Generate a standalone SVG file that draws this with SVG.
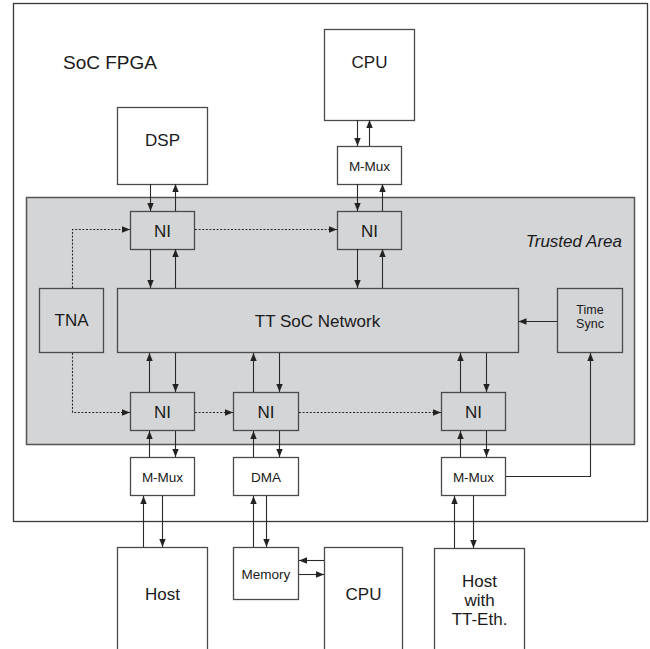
<svg xmlns="http://www.w3.org/2000/svg" width="650" height="649" viewBox="0 0 650 649">
<style>
.box{fill:#ffffff;stroke:#4a4a4a;stroke-width:1.3}
.gbox{fill:#d4d5d7;stroke:#4a4a4a;stroke-width:1.3}
.area{fill:#d4d5d7;stroke:#555555;stroke-width:1.5}
.outer{fill:#ffffff;stroke:#3a3a3a;stroke-width:1.3}
.t{font-family:"Liberation Sans",Arial,sans-serif;fill:#1a1a1a;text-anchor:middle}
.l{font-size:17px}
.s{font-size:13.5px}
.c{fill:none;stroke:#2a2a2a;stroke-width:1.1}
.a{marker-end:url(#ah)}
.d{stroke-dasharray:2 1.6}
</style>
<defs>
<marker id="ah" markerUnits="userSpaceOnUse" markerWidth="8" markerHeight="8" viewBox="0 0 8 8" refX="8" refY="4" orient="auto">
<path d="M0,0.8 L8,4 L0,7.2 Z" fill="#222222"/>
</marker>
</defs>
<rect class="outer" x="13.5" y="3.5" width="634" height="518"/>
<text class="t" x="63" y="69" style="font-size:19px;text-anchor:start">SoC FPGA</text>
<rect class="area" x="26.5" y="197.5" width="608" height="247"/>
<text class="t l" x="622" y="247" style="text-anchor:end;font-style:italic">Trusted Area</text>
<g id="cpu-top"><rect class="box" x="324.5" y="29.5" width="90" height="91"/><text class="t l" x="369.5" y="68">CPU</text></g>
<g id="mmux-top"><rect class="box" x="337.5" y="146.5" width="64" height="38"/><text class="t s" x="369.5" y="171">M-Mux</text></g>
<g id="dsp"><rect class="box" x="117.5" y="107.5" width="90" height="77"/><text class="t l" x="162.5" y="146">DSP</text></g>
<g id="ni-top-left"><rect class="gbox" x="130.5" y="211.5" width="64" height="38"/><text class="t l" x="162.5" y="237">NI</text></g>
<g id="ni-top-right"><rect class="gbox" x="337.5" y="211.5" width="64" height="38"/><text class="t l" x="369.5" y="237">NI</text></g>
<g id="tna"><rect class="gbox" x="39.5" y="288.5" width="64" height="64"/><text class="t l" x="71.5" y="326">TNA</text></g>
<g id="network"><rect class="gbox" x="117.5" y="288.5" width="401" height="64"/><text class="t l" x="317.5" y="327">TT SoC Network</text></g>
<g id="time-sync"><rect class="gbox" x="557.5" y="288.5" width="65" height="64"/><text class="t" x="590" y="313.5" style="font-size:12.5px">Time</text><text class="t" x="590" y="328" style="font-size:12.5px">Sync</text></g>
<g id="ni-bottom-1"><rect class="gbox" x="130.5" y="392.5" width="64" height="38"/><text class="t l" x="162.5" y="418">NI</text></g>
<g id="ni-bottom-2"><rect class="gbox" x="233.5" y="392.5" width="65" height="38"/><text class="t l" x="266" y="418">NI</text></g>
<g id="ni-bottom-3"><rect class="gbox" x="441.5" y="392.5" width="64" height="38"/><text class="t l" x="473.5" y="418">NI</text></g>
<g id="mmux-left"><rect class="box" x="130.5" y="457.5" width="64" height="38"/><text class="t s" x="162.5" y="482">M-Mux</text></g>
<g id="dma"><rect class="box" x="233.5" y="457.5" width="65" height="38"/><text class="t s" x="266" y="482">DMA</text></g>
<g id="mmux-right"><rect class="box" x="441.5" y="457.5" width="64" height="38"/><text class="t s" x="473.5" y="482">M-Mux</text></g>
<g id="host"><rect class="box" x="117.5" y="547.5" width="90" height="120"/><text class="t l" x="162.5" y="600">Host</text></g>
<g id="memory"><rect class="box" x="233.5" y="547.5" width="65" height="52"/><text class="t s" x="266" y="579">Memory</text></g>
<g id="cpu-bottom"><rect class="box" x="324.5" y="547.5" width="78" height="120"/><text class="t l" x="363.5" y="600">CPU</text></g>
<g id="host-tt-eth"><rect class="box" x="434.5" y="548.5" width="90" height="120"/><text class="t l" x="479.5" y="587">Host</text><text class="t l" x="479.5" y="606">with</text><text class="t l" x="479.5" y="625">TT-Eth.</text></g>
<g id="connectors">
<path class="c a" d="M150.5,184 V211"/>
<path class="c a" d="M175.5,211 V184"/>
<path class="c a" d="M357.5,120 V146"/>
<path class="c a" d="M369.5,146 V120"/>
<path class="c a" d="M357.5,184 V211"/>
<path class="c a" d="M382.5,211 V184"/>
<path class="c a" d="M150.5,249 V288"/>
<path class="c a" d="M175.5,288 V249"/>
<path class="c a" d="M357.5,249 V288"/>
<path class="c a" d="M382.5,288 V249"/>
<path class="c a d" d="M72.5,288 V229.5 H130"/>
<path class="c a d" d="M195,229.5 H337"/>
<path class="c a" d="M557,321.5 H518.5"/>
<path class="c a" d="M149.5,392 V353"/>
<path class="c a" d="M175.5,353 V392"/>
<path class="c a" d="M253.5,392 V353"/>
<path class="c a" d="M279.5,353 V392"/>
<path class="c a" d="M460.5,392 V353"/>
<path class="c a" d="M486.5,353 V392"/>
<path class="c a d" d="M72.5,353 V412.5 H130"/>
<path class="c a d" d="M195,412.5 H233"/>
<path class="c a d" d="M299,412.5 H441"/>
<path class="c a" d="M149.5,457 V431"/>
<path class="c a" d="M175.5,431 V457"/>
<path class="c a" d="M253.5,457 V431"/>
<path class="c a" d="M279.5,431 V457"/>
<path class="c a" d="M460.5,457 V431"/>
<path class="c a" d="M486.5,431 V457"/>
<path class="c a" d="M506,476.5 H590.5 V353"/>
<path class="c a" d="M143.5,547 V496"/>
<path class="c a" d="M162.5,496 V547"/>
<path class="c a" d="M253.5,547 V496"/>
<path class="c a" d="M266.5,496 V547"/>
<path class="c a" d="M454.5,548 V496"/>
<path class="c a" d="M473.5,496 V548"/>
<path class="c a" d="M324,560.5 H299"/>
<path class="c a" d="M299,574.5 H324"/>
</g>
</svg>
